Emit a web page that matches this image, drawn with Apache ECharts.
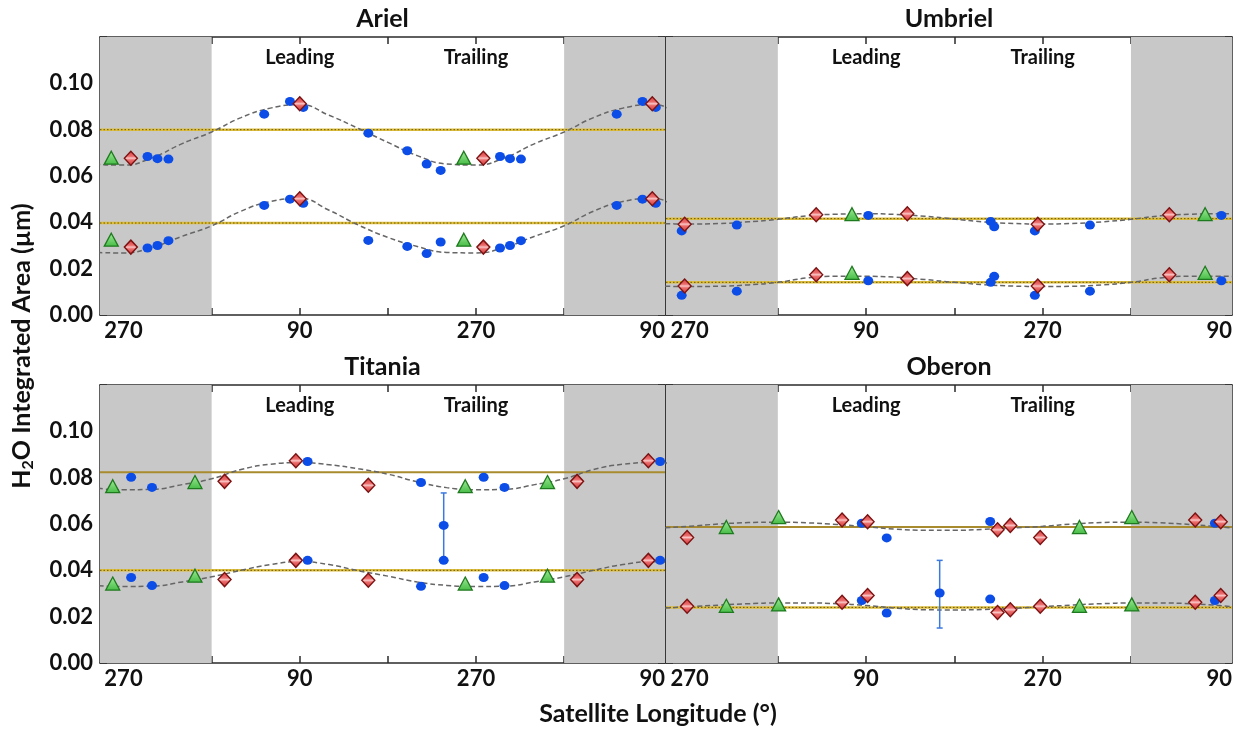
<!DOCTYPE html>
<html>
<head>
<meta charset="utf-8">
<script src="https://cdn.jsdelivr.net/npm/echarts@6/dist/echarts.min.js"></script>
<style>
  html, body { margin: 0; padding: 0; background: #fff; }
  #chart { width: 1233px; height: 729px; }
</style>
</head>
<body>
<div id="chart"></div>
<script>
// unwrapped longitude axis: 270 (= -90) ... 90 (= 450)
const X_MIN = -114
const X_MAX = 463
const TICK_LON = [-90, 0, 90, 180, 270, 360, 450]
const LABEL_LON = [-90, 90, 270, 450]
const SHADE_LON = [[X_MIN, 0], [360, X_MAX]]
const Y_TICKS = [0, 0.01, 0.02, 0.03, 0.04, 0.05, 0.06, 0.07, 0.08, 0.09, 0.10, 0.11, 0.12]
const Y_LABELS = [0, 0.02, 0.04, 0.06, 0.08, 0.10]
const HEMI_LON = [90, 270]
const HEMI_TEXT = ['Leading', 'Trailing']
const HEMI_Y = 0.111

// fitted curves are read at these longitudes
const FIT_LON = [0, 30, 60, 90, 120, 150, 180, 210, 240, 270, 300, 330]

// points: [longitude, upper band value, lower band value]
const arielBlue = [[53.7, 0.0867, 0.0473], [80, 0.0922, 0.0500], [93.6, 0.0896, 0.0482], [160, 0.0785, 0.0322],
  [199.8, 0.0709, 0.0296], [219.6, 0.0652, 0.0265], [233.9, 0.0624, 0.0315], [294.5, 0.0684, 0.0289],
  [304.7, 0.0675, 0.0300], [315.9, 0.0673, 0.0321]]
const arielRed = [[90, 0.0912, 0.0502], [277.5, 0.0677, 0.0293]]
const arielGreen = [[257.5, 0.0679, 0.0325]]
const arielLevel = [0.0800, 0.0397]
const arielFitHi = [0.0790, 0.0852, 0.0893, 0.0908, 0.0862, 0.0805, 0.0745, 0.0688, 0.0652, 0.0647, 0.0680, 0.0740]
const arielFitLo = [0.0385, 0.0448, 0.0490, 0.0503, 0.0452, 0.0388, 0.0335, 0.0296, 0.0270, 0.0268, 0.0293, 0.0340]
const arielErr = []

const umbrielBlue = [[92.2, 0.0430, 0.0148], [217, 0.0404, 0.0141], [220.6, 0.0381, 0.0167],
  [262, 0.0363, 0.0085], [318.2, 0.0388, 0.0103]]
const umbrielRed = [[39.1, 0.0433, 0.0174], [132, 0.0437, 0.0157], [265, 0.0392, 0.0125]]
const umbrielGreen = [[75.6, 0.0435, 0.0182]]
const umbrielLevel = [0.0416, 0.0141]
const umbrielFitHi = [0.0413, 0.0428, 0.0435, 0.0437, 0.0434, 0.0426, 0.0414, 0.0402, 0.0395, 0.0393, 0.0395, 0.0402]
const umbrielFitLo = [0.0141, 0.0160, 0.0167, 0.0167, 0.0163, 0.0153, 0.0141, 0.0131, 0.0125, 0.0123, 0.0124, 0.0130]
const umbrielErr = []

const titaniaBlue = [[98, 0.0870, 0.0443], [213.8, 0.0779, 0.0331], [237, 0.0594, 0.0443],
  [277.8, 0.0802, 0.0369], [299.1, 0.0758, 0.0334]]
const titaniaRed = [[13.2, 0.0784, 0.0360], [86, 0.0873, 0.0443], [160, 0.0767, 0.0357]]
const titaniaGreen = [[259, 0.0763, 0.0343], [343, 0.0781, 0.0377]]
const titaniaLevel = [0.0823, 0.0400]
const titaniaFitHi = [0.0795, 0.0835, 0.0858, 0.0865, 0.0856, 0.0838, 0.0815, 0.0782, 0.0757, 0.0748, 0.0750, 0.0770]
const titaniaFitLo = [0.0372, 0.0400, 0.0425, 0.0437, 0.0425, 0.0398, 0.0375, 0.0350, 0.0335, 0.0330, 0.0332, 0.0350]
const titaniaErr = [[237, 0.0454, 0.0734]]

const oberonBlue = [[85.6, 0.0603, 0.0270], [111, 0.0540, 0.0216], [165, null, 0.0302], [216.5, 0.0611, 0.0276]]
const oberonRed = [[65.5, 0.0617, 0.0262], [91.5, 0.0610, 0.0291], [224, 0.0575, 0.0218],
  [237, 0.0594, 0.0230], [267.5, 0.0542, 0.0245]]
const oberonGreen = [[0.8, 0.0630, 0.0253], [307.5, 0.0587, 0.0247]]
const oberonLevel = [0.0587, 0.0240]
const oberonFitHi = [0.0608, 0.0605, 0.0598, 0.0588, 0.0578, 0.0573, 0.0573, 0.0577, 0.0583, 0.0590, 0.0600, 0.0606]
const oberonFitLo = [0.0259, 0.0259, 0.0256, 0.0248, 0.0237, 0.0230, 0.0229, 0.0231, 0.0236, 0.0243, 0.0250, 0.0256]
const oberonErr = [[165, 0.0151, 0.0443]]

const panels = [
  { name: 'Ariel', rect: [100, 37, 565, 278], labels: true, blue: arielBlue, red: arielRed, green: arielGreen,
    level: arielLevel, dotted: [true, true], fit: [arielFitHi, arielFitLo], err: arielErr },
  { name: 'Umbriel', rect: [666, 37, 566, 278], labels: false, blue: umbrielBlue, red: umbrielRed, green: umbrielGreen,
    level: umbrielLevel, dotted: [true, true], fit: [umbrielFitHi, umbrielFitLo], err: umbrielErr },
  { name: 'Titania', rect: [100, 385, 565, 278], labels: true, blue: titaniaBlue, red: titaniaRed, green: titaniaGreen,
    level: titaniaLevel, dotted: [false, true], fit: [titaniaFitHi, titaniaFitLo], err: titaniaErr },
  { name: 'Oberon', rect: [666, 385, 566, 278], labels: false, blue: oberonBlue, red: oberonRed, green: oberonGreen,
    level: oberonLevel, dotted: [false, true], fit: [oberonFitHi, oberonFitLo], err: oberonErr }
]

const FONT = 'Lato'
const AXIS_COLOR = '#2b2b2b'
const BLUE = '#0c4de8'

function wrapLon (lon) {
  return [lon - 360, lon, lon + 360].filter(l => l >= X_MIN && l <= X_MAX)
}

function points (rows) {
  let out = []
  rows.forEach(r => {
    for (let c = 1; c <= 2; c++) {
      if (r[c] == null) continue
      wrapLon(r[0]).forEach(l => out.push([l, r[c]]))
    }
  })
  return out
}

function fitLine (vals) {
  let out = []
  for (let k = -1; k <= 1; k++) {
    FIT_LON.forEach((l, i) => out.push([l + 360 * k, vals[i]]))
  }
  return out.filter(p => p[0] >= X_MIN - 70 && p[0] <= X_MAX + 70)
}

let grids = []
let xAxes = []
let yAxes = []
let series = []
let graphics = []

const tickStyle = { color: AXIS_COLOR, width: 1.5 }
const labelFont = { fontFamily: FONT, fontWeight: 'bold', fontSize: 22, color: '#111' }

panels.forEach((p, i) => {
  grids.push({ left: p.rect[0], top: p.rect[1], width: p.rect[2], height: p.rect[3], outerBoundsMode: 'none' })

  ;['bottom', 'top'].forEach(pos => {
    xAxes.push({
      gridIndex: i, type: 'value', min: X_MIN, max: X_MAX, position: pos,
      axisLine: { show: true, onZero: false, lineStyle: tickStyle },
      axisTick: { show: true, inside: true, length: 7, customValues: TICK_LON, lineStyle: tickStyle },
      axisLabel: Object.assign({
        show: pos === 'bottom', customValues: LABEL_LON, margin: 5,
        formatter: v => String(((v % 360) + 360) % 360)
      }, labelFont),
      splitLine: { show: false }
    })
  })

  ;['left', 'right'].forEach(pos => {
    yAxes.push({
      gridIndex: i, type: 'value', min: 0, max: 0.12, position: pos,
      axisLine: { show: true, onZero: false, lineStyle: tickStyle },
      axisTick: { show: true, inside: true, length: 7, customValues: Y_TICKS, lineStyle: tickStyle },
      axisLabel: Object.assign({
        show: pos === 'left' && p.labels, customValues: Y_LABELS, margin: 7,
        formatter: v => v.toFixed(2)
      }, labelFont),
      splitLine: { show: false }
    })
  })

  const ax = { xAxisIndex: 2 * i, yAxisIndex: 2 * i }

  // grey hemisphere shading
  series.push(Object.assign({
    type: 'line', data: [], z: 1, silent: true,
    markArea: {
      silent: true,
      itemStyle: { color: '#c8c8c8' },
      data: SHADE_LON.map(s => [{ xAxis: s[0] }, { xAxis: s[1] }])
    }
  }, ax))

  // mean levels
  p.level.forEach((lv, k) => {
    const seg = [[X_MIN, lv], [X_MAX, lv]]
    if (p.dotted[k]) {
      series.push(Object.assign({ type: 'line', data: seg, symbol: 'none', z: 2, silent: true,
        lineStyle: { color: '#dcbd3c', width: 2.5, type: 'solid' } }, ax))
      series.push(Object.assign({ type: 'line', data: seg, symbol: 'none', z: 2, silent: true,
        lineStyle: { color: '#6b5810', width: 1, type: [1.5, 2] } }, ax))
    } else {
      series.push(Object.assign({ type: 'line', data: seg, symbol: 'none', z: 2, silent: true,
        lineStyle: { color: '#a88b2e', width: 2, type: 'solid' } }, ax))
    }
  })

  // fitted curves
  p.fit.forEach(vals => {
    series.push(Object.assign({
      type: 'line', data: fitLine(vals), smooth: true, showSymbol: false, symbol: 'none', z: 3, silent: true,
      lineStyle: { color: '#666', width: 1.5, type: [5, 3] }
    }, ax))
  })

  // error bars
  series.push(Object.assign({
    type: 'custom', z: 4, data: p.err,
    encode: { x: 0, y: [1, 2] },
    renderItem: function (params, api) {
      const x = api.value(0)
      const a = api.coord([x, api.value(1)])
      const b = api.coord([x, api.value(2)])
      const st = { stroke: '#3b78e0', lineWidth: 1.5 }
      return {
        type: 'group',
        children: [
          { type: 'line', shape: { x1: a[0], y1: a[1], x2: b[0], y2: b[1] }, style: st },
          { type: 'line', shape: { x1: a[0] - 3, y1: a[1], x2: a[0] + 3, y2: a[1] }, style: st },
          { type: 'line', shape: { x1: b[0] - 3, y1: b[1], x2: b[0] + 3, y2: b[1] }, style: st }
        ]
      }
    }
  }, ax))

  series.push(Object.assign({
    type: 'scatter', z: 5, data: points(p.blue), symbol: 'circle', symbolSize: [10, 9],
    itemStyle: { color: BLUE, opacity: 1 }
  }, ax))

  series.push(Object.assign({
    type: 'scatter', z: 6, data: points(p.green), symbol: 'triangle', symbolSize: [14, 13],
    itemStyle: {
      opacity: 1,
      color: { type: 'linear', x: 0, y: 0, x2: 0, y2: 1, colorStops: [
        { offset: 0, color: '#a2ec9a' }, { offset: 1, color: '#44bb44' }] },
      borderColor: '#1f7a1f', borderWidth: 1.3
    }
  }, ax))

  series.push(Object.assign({
    type: 'scatter', z: 7, data: points(p.red), symbol: 'diamond', symbolSize: [13, 14],
    itemStyle: {
      opacity: 1,
      color: { type: 'linear', x: 0, y: 0, x2: 0, y2: 1, colorStops: [
        { offset: 0, color: '#d43838' }, { offset: 0.38, color: '#ea6c6c' }, { offset: 0.5, color: '#f9c4c4' },
        { offset: 0.62, color: '#ea6c6c' }, { offset: 1, color: '#cf3333' }] },
      borderColor: '#7c1212', borderWidth: 1.4
    }
  }, ax))

  // Leading / Trailing captions
  series.push(Object.assign({
    type: 'scatter', z: 8, silent: true, symbolSize: 0.5,
    itemStyle: { color: '#111', opacity: 1 },
    data: HEMI_LON.map((l, k) => [l, HEMI_Y, HEMI_TEXT[k]]),
    label: {
      show: true, position: 'inside', formatter: q => q.data[2],
      fontFamily: FONT, fontWeight: 'bold', fontSize: 20, color: '#111'
    }
  }, ax))

  graphics.push({
    type: 'text', x: p.rect[0] + p.rect[2] / 2, y: p.rect[1] - 18,
    style: { text: p.name, textAlign: 'center', textVerticalAlign: 'middle',
      fontFamily: FONT, fontWeight: 'bold', fontSize: 25, fill: '#111' }
  })
})

graphics.push({
  type: 'text', x: 22, y: 346, rotation: Math.PI / 2,
  style: {
    text: '{a|H}{s|2}{a|O Integrated Area (µm)}',
    textAlign: 'center', textVerticalAlign: 'middle',
    rich: {
      a: { fontFamily: FONT, fontWeight: 'bold', fontSize: 25, fill: '#111', color: '#111' },
      s: { fontFamily: FONT, fontWeight: 'bold', fontSize: 16, fill: '#111', color: '#111', padding: [11, 0, 0, 0] }
    }
  }
})

graphics.push({
  type: 'text', x: 658, y: 714,
  style: { text: 'Satellite Longitude (°)', textAlign: 'center', textVerticalAlign: 'middle',
    fontFamily: FONT, fontWeight: 'bold', fontSize: 25, fill: '#111' }
})

const chart = echarts.init(document.getElementById('chart'))
chart.setOption({
  animation: false,
  backgroundColor: '#fff',
  grid: grids,
  xAxis: xAxes,
  yAxis: yAxes,
  series: series,
  graphic: graphics
})
</script>
</body>
</html>
